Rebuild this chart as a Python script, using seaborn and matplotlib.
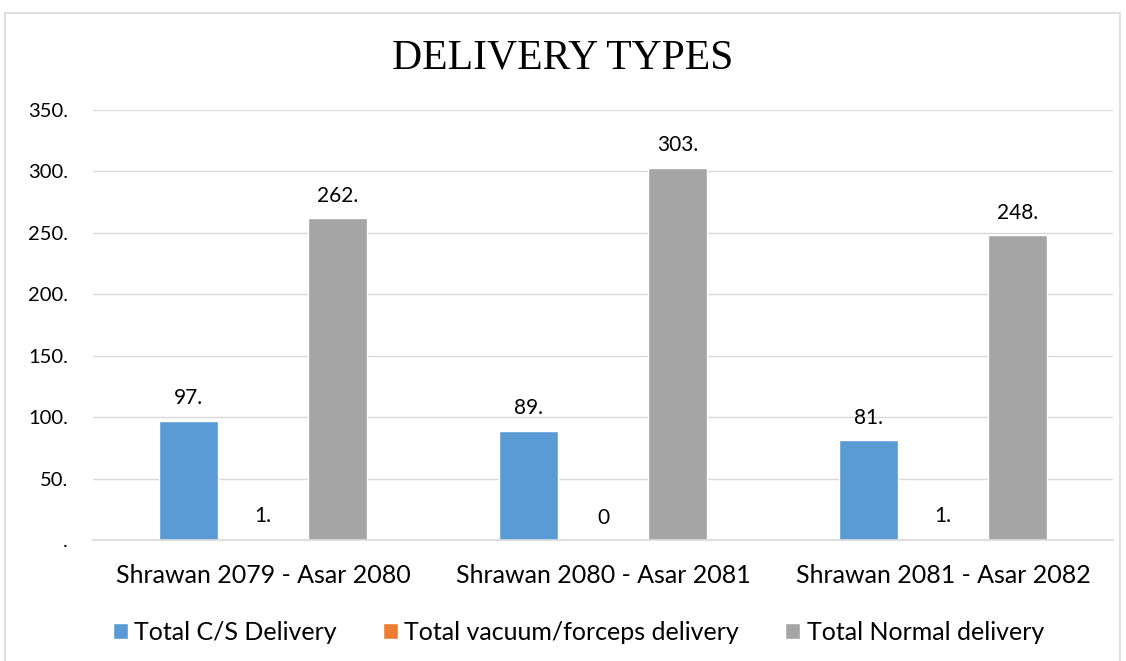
import matplotlib
matplotlib.use("Agg")
import matplotlib.pyplot as plt
import seaborn as sns
import pandas as pd
from matplotlib.patches import Rectangle

periods = ["Shrawan 2079 - Asar 2080", "Shrawan 2080 - Asar 2081", "Shrawan 2081 - Asar 2082"]
series_names = ["Total C/S Delivery", "Total vacuum/forceps delivery", "Total Normal delivery"]
cs_delivery = [97, 89, 81]
vacuum_forceps = [1, 0, 1]
normal_delivery = [262, 303, 248]
y_ticks = [0, 50, 100, 150, 200, 250, 300, 350]
y_tick_labels = [".", "50.", "100.", "150.", "200.", "250.", "300.", "350."]
colors = ["#5B9BD5", "#ED7D31", "#A5A5A5"]

rows = []
for name, vals in zip(series_names, [cs_delivery, vacuum_forceps, normal_delivery]):
    for p, v in zip(periods, vals):
        rows.append({"Period": p, "Series": name, "Value": v})
df = pd.DataFrame(rows)

sns.set_style("white")
plt.rcParams["font.family"] = ["Lato", "DejaVu Sans"]

fig = plt.figure(figsize=(11.26, 6.61), dpi=100)
ax = fig.add_axes([93/1126, 1-540/661, (1113-93)/1126, (540-110)/661])

sns.barplot(data=df, x="Period", y="Value", hue="Series", hue_order=series_names,
            order=periods, palette=colors, width=0.66, gap=0.21, ax=ax,
            saturation=1, errorbar=None)

for cont in ax.containers:
    labels = [("0" if v == 0 else f"{int(v)}.") for v in cont.datavalues]
    ax.bar_label(cont, labels=labels, padding=9, fontsize=15, color="#000000")

ax.set_ylim(0, 350)
ax.set_yticks(y_ticks)
ax.set_yticklabels(y_tick_labels, fontsize=14.5, color="#000000")
ax.tick_params(axis="y", length=0, pad=18)
ax.tick_params(axis="x", length=0, labelsize=18, pad=17, labelcolor="#000000")
ax.set_xlabel("")
ax.set_ylabel("")
ax.yaxis.grid(True, color="#d9d9d9", linewidth=1)
ax.set_axisbelow(True)
for s in ["top", "right", "left"]:
    ax.spines[s].set_visible(False)
ax.spines["bottom"].set_color("#d9d9d9")
ax.spines["bottom"].set_linewidth(1.2)

leg = ax.legend(loc="center", bbox_to_anchor=(0.476, -0.215), ncol=3, frameon=False,
                fontsize=18, handlelength=0.6, handleheight=0.6, handletextpad=0.25,
                columnspacing=1.85)
for t in leg.get_texts():
    t.set_color("#000000")

fig.text(0.5, 1-58/661, "DELIVERY TYPES", ha="center", va="center",
         fontsize=30, family=["Liberation Serif"], color="#000000")

fig.patches.append(Rectangle((5/1126, -0.01), (1120-5)/1126, 1-13/661+0.01,
                             transform=fig.transFigure, fill=False,
                             edgecolor="#d9d9d9", linewidth=1.2))

fig.savefig("out.png", dpi=100)
